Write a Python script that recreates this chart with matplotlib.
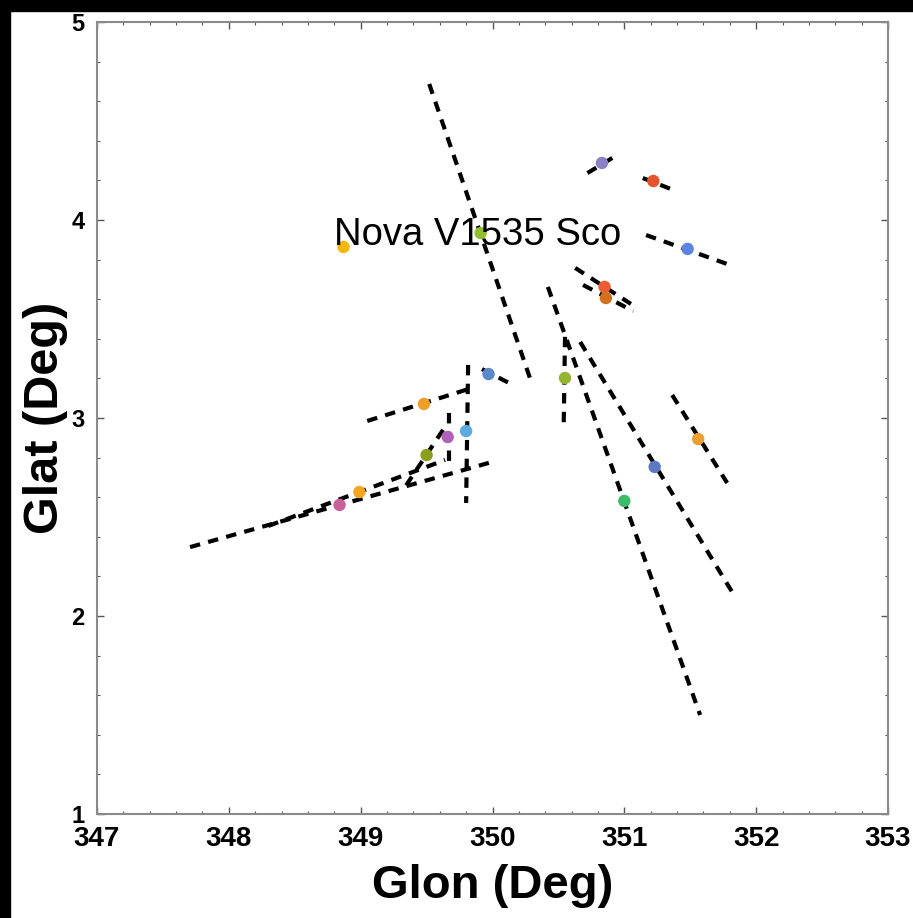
import numpy as np
import matplotlib.pyplot as plt
from matplotlib.patches import Rectangle
from matplotlib.ticker import MultipleLocator

# stars: galactic longitude / latitude and marker colour
glon = [348.87, 349.91, 350.83, 351.22, 351.48, 350.85, 350.86, 350.55, 349.97,
        349.48, 349.80, 349.66, 349.50, 348.99, 348.84, 351.56, 351.23, 351.00]
glat = [3.864, 3.934, 4.288, 4.197, 3.854, 3.662, 3.606, 3.202, 3.222,
        3.071, 2.934, 2.904, 2.813, 2.626, 2.561, 2.894, 2.753, 2.581]
colors = ['#f5b70f', '#8fbf2f', '#8b80c4', '#e8532e', '#5d84e2', '#ee5c35',
          '#d2701d', '#94b433', '#5b88c8', '#ee9f2a', '#5eaae0', '#b061b8',
          '#8d9e1e', '#f5a51e', '#c9609c', '#eb9f32', '#5b78c2', '#3dbb6a']

# proper-motion tracks (start lon, start lat, end lon, end lat)
trk_lon0 = [349.52, 350.72, 351.14, 351.165, 350.627, 350.687, 350.55, 350.42, 350.665,
            351.363, 349.92, 349.05, 349.815, 349.671, 349.625, 348.30, 347.706]
trk_lat0 = [4.687, 4.237, 4.212, 3.924, 3.758, 3.672, 3.41, 3.662, 3.384,
            3.116, 3.247, 2.985, 3.268, 3.025, 2.94, 2.455, 2.348]
trk_lon1 = [350.285, 350.92, 351.37, 351.80, 351.05, 351.067, 350.54, 351.575, 351.818,
            351.78, 350.14, 349.845, 349.80, 349.671, 349.337, 349.64, 349.997]
trk_lat1 = [3.20, 4.318, 4.152, 3.773, 3.576, 3.540, 2.955, 1.50, 2.121,
            2.672, 3.172, 3.152, 2.571, 2.763, 2.652, 2.788, 2.778]

nova_label = 'Nova V1535 Sco'
nova_pos = (348.80, 3.875)

plt.rcParams['font.family'] = ['Liberation Sans', 'DejaVu Sans']

fig = plt.figure(figsize=(9.13, 9.18), dpi=100, facecolor='white')
# dark border strips along the top and left
fig.patches.append(Rectangle((0, 0), 10 / 913, 1, transform=fig.transFigure,
                             color='black', zorder=-10))
fig.patches.append(Rectangle((0, 1 - 11 / 918), 1, 11 / 918, transform=fig.transFigure,
                             color='black', zorder=-10))

ax = fig.add_axes([97 / 913, 1 - 814 / 918, 791 / 913, 792 / 918])

for x0, y0, x1, y1 in zip(trk_lon0, trk_lat0, trk_lon1, trk_lat1):
    ax.plot([x0, x1], [y0, y1], color='black', lw=3.0, dashes=(2.5, 2.0),
            solid_capstyle='butt', zorder=2)

ax.scatter(glon, glat, s=80, c=colors, edgecolors='none', zorder=3)

ax.text(nova_pos[0], nova_pos[1], nova_label, fontsize=27.5, ha='left',
        va='baseline', color='black', zorder=4)

ax.set_xlim(347, 353)
ax.set_ylim(1, 5)
ax.xaxis.set_major_locator(MultipleLocator(1))
ax.xaxis.set_minor_locator(MultipleLocator(0.2))
ax.yaxis.set_major_locator(MultipleLocator(1))
ax.yaxis.set_minor_locator(MultipleLocator(0.2))
ax.tick_params(which='both', direction='in', top=True, right=True, color='#555555')
ax.tick_params(which='major', length=5, width=1)
ax.tick_params(which='minor', length=2.5, width=0.8)
ax.tick_params(axis='x', pad=9, labelsize=20)
ax.tick_params(axis='y', pad=9, labelsize=17)
for lbl in ax.get_xticklabels() + ax.get_yticklabels():
    lbl.set_fontweight('bold')

for sp in ax.spines.values():
    sp.set_color('#8a8a8a')
    sp.set_linewidth(1.5)

ax.set_xlabel('Glon (Deg)', fontsize=34, fontweight='bold', labelpad=8)
ax.set_ylabel('Glat (Deg)', fontsize=35, fontweight='bold', labelpad=2)

fig.savefig('out.png', dpi=100, facecolor=fig.get_facecolor())
